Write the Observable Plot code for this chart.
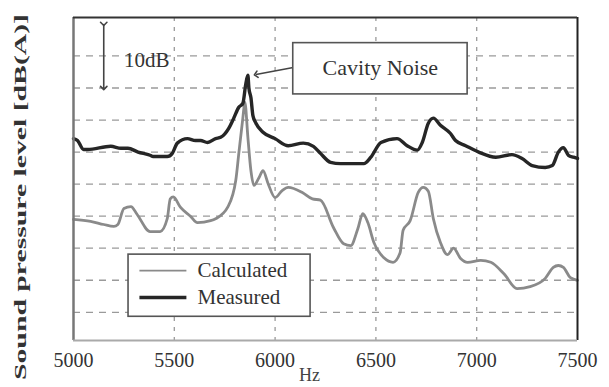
<!DOCTYPE html>
<html><head><meta charset="utf-8">
<script src="https://cdn.jsdelivr.net/npm/d3@7"></script>
<script src="https://cdn.jsdelivr.net/npm/@observablehq/plot@0.6"></script>
<style>body{margin:0;background:#fff;} svg{display:block;}</style>
</head><body><div id="chart"></div>
<script>
// Frequencies (Hz) and sound pressure levels (relative dB(A))
const measuredHz = [5000,5020,5050,5070,5185,5235,5270,5320,5380,5395,5465,5490,5515,5565,5605,5630,5665,5705,5730,5770,5795,5820,5840,5855,5865,5870,5880,5890,5905,5940,6000,6065,6140,6190,6225,6275,6325,6440,6475,6525,6605,6655,6705,6730,6760,6785,6820,6870,6895,6945,7010,7095,7175,7225,7275,7340,7375,7405,7430,7455,7480,7500];
const measuredDb = [32.1,31.8,30.4,30.4,30.9,30.6,30.6,30.0,29.5,29.3,29.3,29.8,31.4,32.1,31.8,31.8,31.5,32.1,32.3,33.7,35.3,37.0,37.6,40.7,42.0,40.0,38.5,35.7,34.5,33.1,32.1,31.0,31.4,30.9,29.8,28.4,28.2,28.2,29.2,31.5,32.1,31.0,30.3,31.5,34.5,35.3,34.2,32.9,31.8,31.0,30.0,29.2,29.6,29.0,27.9,27.6,27.9,30.0,30.7,29.5,29.2,29.0];
const calculatedHz = [5000,5085,5150,5200,5220,5250,5285,5315,5380,5430,5465,5480,5495,5530,5580,5615,5680,5705,5765,5805,5820,5840,5850,5865,5880,5895,5920,5940,5965,6000,6035,6065,6135,6185,6225,6290,6340,6375,6410,6435,6460,6490,6540,6585,6620,6635,6670,6710,6735,6760,6785,6820,6855,6885,6920,6955,7020,7070,7135,7200,7265,7340,7380,7405,7430,7465,7500];
const calculatedDb = [19.5,19.2,18.7,18.4,18.7,21.2,21.5,20.3,17.6,17.6,19.6,22.7,23.0,21.4,20.0,19.0,19.3,19.6,21.4,25.6,29.8,35.3,37.8,32.3,27.1,24.8,26.0,27.1,25.1,22.9,24.0,24.5,23.7,22.7,22.5,18.2,15.7,15.4,18.0,20.4,19.0,15.9,13.5,12.8,14.3,17.8,19.3,23.7,24.5,23.9,19.6,15.9,14.0,15.0,13.4,12.8,13.1,12.8,11.0,8.7,9.0,10.3,12.0,12.3,12.0,10.4,10.0];
const xTicks = [5000,5500,6000,6500,7000,7500];
const xGrid = [5500,6000,6500,7000];
const yGrid = [5,10,15,20,25,30,35,40,45];
const seriesNames = ["Calculated","Measured"];
const annotationText = "Cavity Noise";
const scaleText = "10dB";
const xLabel = "Hz";
const yLabel = "Sound pressure level [dB(A)]";

// annotation anchors (data units)
const noteBox = {x1: 6090, x2: 6955, y1: 39.0, y2: 47.0, tx: 6522, ty: 43.1};
const noteArrow = {x1: 6090, y1: 43.2, x2: 5905, y2: 42.1};
const scaleBar = {x: 5150, y1: 50, y2: 40, tx: 5250, ty: 44.3};
const legendBox = {x1: 5273, x2: 6176, y1: 4.3, y2: 14.0};
const legendRows = [
  {name: seriesNames[0], x1: 5327, x2: 5560, y: 11.5, tx: 5615, color: "#8a8a8a", w: 1.6},
  {name: seriesNames[1], x1: 5327, x2: 5560, y: 7.3, tx: 5615, color: "#262626", w: 3.4}
];

const measured = measuredHz.map((x, i) => ({x, y: measuredDb[i]}));
const calculated = calculatedHz.map((x, i) => ({x, y: calculatedDb[i]}));

const serif = "Liberation Serif, Times New Roman, serif";
const X0 = 5000, X1 = 7500, Y0 = 0.6, Y1 = 51;

const chart = Plot.plot({
  width: 609, height: 387,
  marginLeft: 73, marginRight: 32, marginTop: 17, marginBottom: 47,
  style: {fontFamily: serif, background: "#fff"},
  x: {domain: [X0, X1]},
  y: {domain: [Y0, Y1], axis: null},
  marks: [
    Plot.ruleY(yGrid, {stroke: "#9a9a9a", strokeWidth: 1.3, strokeDasharray: "7,6"}),
    Plot.ruleX(xGrid, {stroke: "#9a9a9a", strokeWidth: 1.3, strokeDasharray: "4,6"}),
    Plot.line(calculated, {x: "x", y: "y", stroke: "#8a8a8a", strokeWidth: 2.8, curve: "monotone-x"}),
    Plot.line(measured, {x: "x", y: "y", stroke: "#262626", strokeWidth: 3.4, curve: "monotone-x"}),
    // frame
    Plot.ruleX([X0], {stroke: "#777", strokeWidth: 2.5}),
    Plot.ruleX([X1], {stroke: "#222", strokeWidth: 2}),
    Plot.ruleY([Y1], {stroke: "#333", strokeWidth: 2}),
    Plot.ruleY([Y0], {stroke: "#aaa", strokeWidth: 2}),
    // x axis
    Plot.axisX(xTicks, {tickSize: 0, tickPadding: 12, fontSize: 20, fill: "#333", label: null, tickFormat: d => String(d)}),
    Plot.text([xLabel], {frameAnchor: "bottom", dx: -16, dy: 35, fontSize: 18, fill: "#444", lineAnchor: "middle"}),
    // 10dB scale bar
    Plot.link([scaleBar], {x1: "x", x2: "x", y1: "y1", y2: "y2", stroke: "#444", strokeWidth: 1.6, markerStart: "arrow", markerEnd: "arrow"}),
    Plot.text([scaleBar], {x: "tx", y: "ty", text: () => scaleText, textAnchor: "start", fontSize: 21, fill: "#333"}),
    // cavity noise callout
    Plot.link([noteArrow], {x1: "x1", y1: "y1", x2: "x2", y2: "y2", stroke: "#444", strokeWidth: 1.6, markerEnd: "arrow"}),
    Plot.rect([noteBox], {x1: "x1", x2: "x2", y1: "y1", y2: "y2", fill: "white", stroke: "#555", strokeWidth: 1.6}),
    Plot.text([noteBox], {x: "tx", y: "ty", text: () => annotationText, fontSize: 22, fill: "#333"}),
    // legend
    Plot.rect([legendBox], {x1: "x1", x2: "x2", y1: "y1", y2: "y2", fill: "white", stroke: "#555", strokeWidth: 1.6}),
    Plot.link([legendRows[0]], {x1: "x1", x2: "x2", y1: "y", y2: "y", stroke: legendRows[0].color, strokeWidth: legendRows[0].w}),
    Plot.link([legendRows[1]], {x1: "x1", x2: "x2", y1: "y", y2: "y", stroke: legendRows[1].color, strokeWidth: legendRows[1].w}),
    Plot.text(legendRows, {x: "tx", y: "y", text: "name", textAnchor: "start", fontSize: 21, fill: "#333"})
  ]
});

document.getElementById("chart").appendChild(chart);

// rotated y label (stretched like the original)
d3.select(chart).append("text")
  .attr("transform", "translate(22,197) rotate(-90)")
  .attr("text-anchor", "middle")
  .attr("dominant-baseline", "middle")
  .attr("font-family", serif)
  .attr("font-weight", "bold")
  .attr("font-size", 16)
  .attr("fill", "#333")
  .attr("textLength", 366)
  .attr("lengthAdjust", "spacingAndGlyphs")
  .text(yLabel);
</script>
</body></html>
